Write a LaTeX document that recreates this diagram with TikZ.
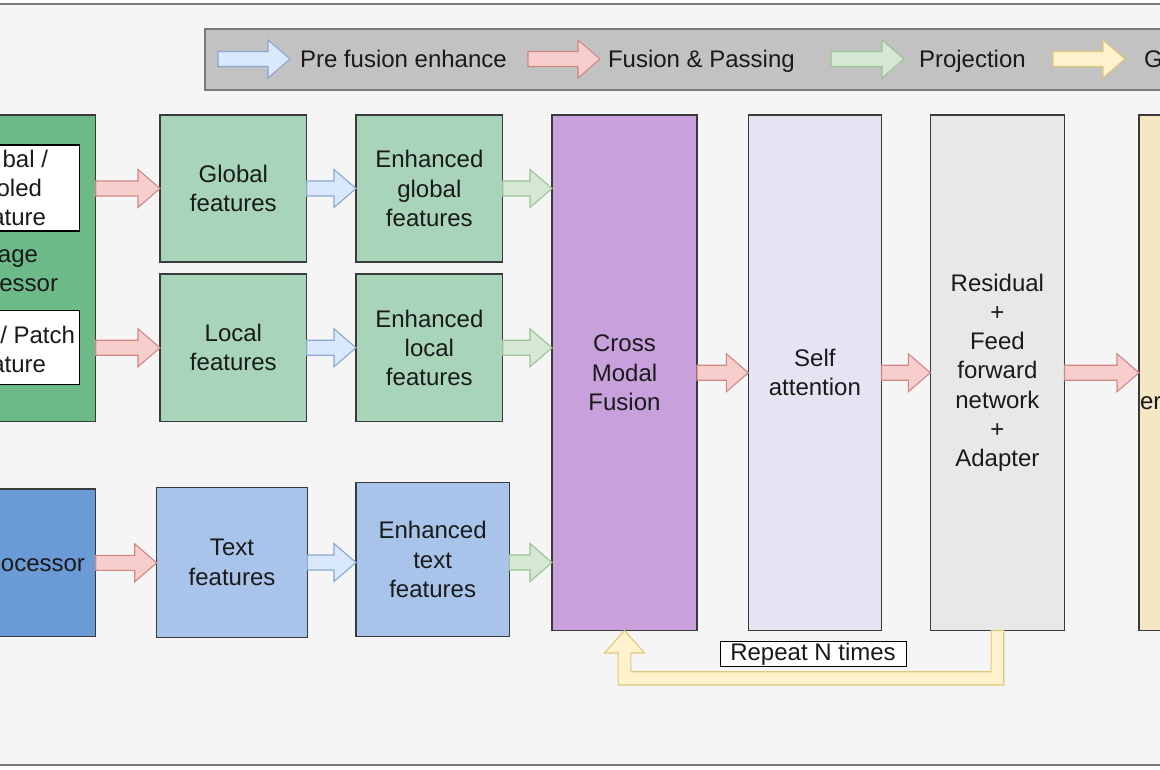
\documentclass[tikz,border=0pt]{standalone}
\usepackage{fontspec}
\setmainfont{Liberation Sans}
\usetikzlibrary{calc}
\definecolor{bg}{HTML}{F5F5F5}
\definecolor{frame}{HTML}{7A7A7A}
\definecolor{leg}{HTML}{C2C2C2}
\definecolor{legline}{HTML}{7A7A7A}
\definecolor{boxline}{HTML}{3A3A3A}
\definecolor{txt}{HTML}{1A1A1A}
\definecolor{dgreen}{HTML}{6BBA87}
\definecolor{lgreen}{HTML}{A8D5BA}
\definecolor{dblue}{HTML}{6B9BD7}
\definecolor{lblue}{HTML}{A9C4EB}
\definecolor{purp}{HTML}{C8A0DC}
\definecolor{lav}{HTML}{E6E4F3}
\definecolor{lgray}{HTML}{E8E8E8}
\definecolor{cream}{HTML}{F5E6C4}
\definecolor{redf}{HTML}{F8CECC}\definecolor{redl}{HTML}{CF8886}
\definecolor{bluef}{HTML}{DAE8FC}\definecolor{bluel}{HTML}{8AA8D0}
\definecolor{greenf}{HTML}{D5E8D4}\definecolor{greenl}{HTML}{9CC393}
\definecolor{yelf}{HTML}{FFF2CC}\definecolor{yell}{HTML}{DFC77A}
\newcommand{\arrsh}{7.5pt}
\newcommand{\arrhh}{19pt}
\newcommand{\arrhl}{22pt}
% block arrow from #2 to #3 (horizontal, at the y of #2)
\newcommand{\barrow}[3]{\path[#1] let \p1=(#2), \p2=(#3) in
  (\x1,\y1+\arrsh) -- (\x2-\arrhl,\y1+\arrsh) -- (\x2-\arrhl,\y1+\arrhh) -- (\x2,\y1)
  -- (\x2-\arrhl,\y1-\arrhh) -- (\x2-\arrhl,\y1-\arrsh) -- (\x1,\y1-\arrsh) -- cycle;}
\begin{document}
\begin{tikzpicture}[x=1pt,y=-1pt,
  font=\fontsize{24}{29.3}\selectfont,
  box/.style={draw=boxline, line width=1.3pt, inner sep=0pt, outer sep=0pt, align=center, text=txt},
  fillonly/.style={inner sep=0pt, outer sep=0pt, align=center, text=txt},
  bline/.style={draw=boxline, line width=1.3pt},
  frag/.style={inner sep=0pt, outer sep=0pt, text=txt},
  redarr/.style={fill=redf, draw=redl, line width=1.1pt, line join=miter},
  bluearr/.style={fill=bluef, draw=bluel, line width=1.1pt, line join=miter},
  greenarr/.style={fill=greenf, draw=greenl, line width=1.1pt, line join=miter},
  yelarr/.style={fill=yelf, draw=yell, line width=1.1pt, line join=miter}]
\useasboundingbox (0,0) rectangle (1160,770);
% background frame
\fill[white] (0,0) rectangle (1160,770);
\fill[bg] (0,4) rectangle (1160,765);
\draw[frame, line width=1.5pt] (0,4) -- (1160,4);
\draw[frame, line width=1.5pt] (0,765) -- (1160,765);
% legend
\fill[leg] (205,29) rectangle (1160,90);
\draw[legline, line width=1.3pt] (1160,29) -- (205,29) -- (205,90) -- (1160,90);
\coordinate (la1) at (218,59); \coordinate (la2) at (290,59);
\coordinate (lb1) at (528,59); \coordinate (lb2) at (600,59);
\coordinate (lc1) at (831,59); \coordinate (lc2) at (904,59);
\coordinate (ld1) at (1053,59); \coordinate (ld2) at (1125,59);
\barrow{bluearr}{la1}{la2}
\barrow{redarr}{lb1}{lb2}
\barrow{greenarr}{lc1}{lc2}
\barrow{yelarr}{ld1}{ld2}
\node[frag, anchor=base west] (lt1) at (300,68) {Pre fusion enhance};
\node[frag, anchor=base west] (lt2) at (608,68) {Fusion \& Passing};
\node[frag, anchor=base west] (lt3) at (919,68) {Projection};
\node[frag, anchor=base west] (lt4) at (1144,68) {G};
% image processor (cropped at left)
\node[fillonly, fill=dgreen, minimum width=95.7pt, minimum height=306.5pt] (imgproc) at (47.85,268.25) {};
\draw[bline] (imgproc.north west) -- (imgproc.north east) -- (imgproc.south east) -- (imgproc.south west);
\node[fillonly, fill=white, minimum width=79.3pt, minimum height=86pt] (w1) at (39.65,188) {};
\draw[draw=black, line width=1.1pt] (w1.north west) -- (w1.north east) -- (w1.south east) -- (w1.south west);
\node[fillonly, fill=white, minimum width=79.3pt, minimum height=73.6pt] (w2) at (39.65,347.5) {};
\draw[draw=black, line width=1.1pt] (w2.north west) -- (w2.north east) -- (w2.south east) -- (w2.south west);
\node[frag, anchor=base east] (f1) at (48,168) {bal /};
\node[frag, anchor=base east] (f2) at (42,197) {oled};
\node[frag, anchor=base east] (f3) at (46,226) {ature};
\node[frag, anchor=base east] (f4) at (38,263) {age};
\node[frag, anchor=base east] (f5) at (58,292) {essor};
\node[frag, anchor=base east] (f6) at (75,343) {/ Patch};
\node[frag, anchor=base east] (f7) at (46,372) {ature};
% text processor (cropped at left)
\node[fillonly, fill=dblue, minimum width=95.7pt, minimum height=147.7pt] (txtproc) at (47.85,562.85) {};
\draw[bline] (txtproc.north west) -- (txtproc.north east) -- (txtproc.south east) -- (txtproc.south west);
\node[frag, anchor=base east] (f8) at (85,571.5) {ocessor};
% feature boxes
\node[box, fill=lgreen, minimum width=146.7pt, minimum height=147pt] (glob) at (233.35,188.5) {Global\\features};
\node[box, fill=lgreen, minimum width=146.7pt, minimum height=147.5pt] (loc) at (233.35,347.75) {Local\\features};
\node[box, fill=lgreen, minimum width=146.7pt, minimum height=147pt] (eglob) at (429.35,188.5) {Enhanced\\global\\features};
\node[box, fill=lgreen, minimum width=146.7pt, minimum height=147.5pt] (eloc) at (429.35,347.75) {Enhanced\\local\\features};
\node[box, fill=lblue, minimum width=150.6pt, minimum height=150.4pt] (txtf) at (232,562.5) {Text\\features};
\node[box, fill=lblue, minimum width=153.3pt, minimum height=154pt] (etxt) at (432.65,559.7) {Enhanced\\text\\features};
\node[box, fill=purp, minimum width=145pt, minimum height=515.5pt] (cmf) at (624.5,372.75) {Cross\\Modal\\Fusion};
\node[box, fill=lav, minimum width=133.2pt, minimum height=515.5pt] (sa) at (814.9,372.75) {Self\\attention};
\node[box, fill=lgray, minimum width=134.2pt, minimum height=515.5pt] (res) at (997.4,372.75) {Residual\\+\\Feed\\forward\\network\\+\\Adapter};
\node[fillonly, fill=cream, minimum width=23pt, minimum height=515.5pt] (last) at (1150.5,372.75) {};
\draw[bline] (last.north east) -- (last.north west) -- (last.south west) -- (last.south east);
\node[frag, anchor=west] (f9) at (1140,403) {er};
% arrows
\barrow{redarr}{imgproc.east |- glob.west}{glob.west}
\barrow{redarr}{imgproc.east |- loc.west}{loc.west}
\barrow{redarr}{txtproc.east}{txtf.west |- txtproc.east}
\barrow{bluearr}{glob.east}{eglob.west}
\barrow{bluearr}{loc.east}{eloc.west}
\barrow{bluearr}{txtf.east}{etxt.west}
\barrow{greenarr}{eglob.east}{cmf.west |- eglob.east}
\barrow{greenarr}{eloc.east}{cmf.west |- eloc.east}
\barrow{greenarr}{etxt.east |- txtf.east}{cmf.west |- txtf.east}
\barrow{redarr}{cmf.east}{sa.west}
\barrow{redarr}{sa.east}{res.west}
\barrow{redarr}{res.east}{last.west}
% repeat loop
\path[yelarr] let \p1=(res.south), \p2=(cmf.south) in
  (\x1-6.35pt,\y1) -- (\x1-6.35pt,\y1-41.2pt) -- (\x2+6.35pt,\y1-41.2pt) -- (\x2+6.35pt,\y2-22.5pt)
  -- (\x2+20pt,\y2-22.5pt) -- (\x2,\y2) -- (\x2-20pt,\y2-22.5pt) -- (\x2-6.35pt,\y2-22.5pt)
  -- (\x2-6.35pt,\y1-54.5pt) -- (\x1+6.35pt,\y1-54.5pt) -- (\x1+6.35pt,\y1) -- cycle;
\node[draw=black, fill=white, line width=0.9pt, inner sep=0pt, minimum width=186pt, minimum height=25pt, text=txt] (rep) at (813,654.2) {Repeat N times};
\end{tikzpicture}
\end{document}
